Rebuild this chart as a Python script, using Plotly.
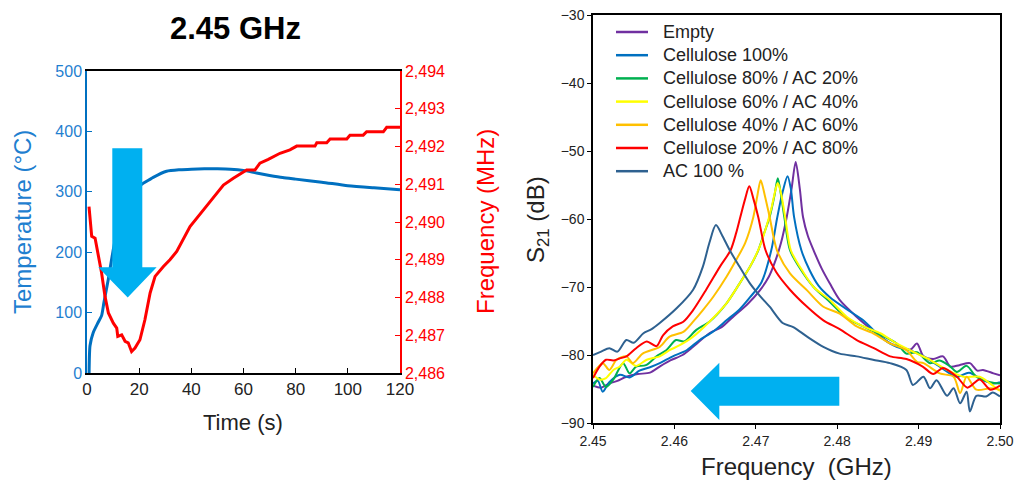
import plotly.graph_objects as go

# ---------------- Left chart data ----------------
time_temp = [0.8, 1.15, 2.4, 4.3, 5.6, 6.5, 8.2, 10.1, 12, 14, 16, 18, 20, 21.2, 25.4, 30.5,
             35.6, 40, 45, 50, 55, 60, 65, 70, 75, 80, 90, 100, 110, 120]
temperature = [0, 45, 67, 84, 95, 117, 156, 205, 245, 275, 295, 305, 310, 313, 324, 334,
               336.5, 337.5, 338, 338, 337.5, 335.5, 331, 327, 323.5, 321, 316, 310, 306.5, 303.5]

time_freq = [0.77, 1.8, 3.1, 4.3, 5.6, 6.9, 8.2, 10.1, 11.4, 11.8, 13.3, 14.6, 15.8, 17.1,
             18.4, 20.3, 22.2, 24.2, 26.1, 29.3, 31.8, 34.4, 39.5, 47.2, 52.3, 56.1, 59.3,
             61.2, 64.4, 66.3, 69.5, 74.0, 77.8, 80.4, 87.4, 88.1, 91.9, 93.2, 99.6, 100.8,
             105.9, 107.2, 113.6, 114.9, 120]
frequency_mhz = [2490.41, 2489.62, 2489.57, 2489.17, 2488.65, 2488.03, 2487.59, 2487.32,
                 2487.19, 2486.97, 2487.01, 2486.84, 2486.80, 2486.57, 2486.66, 2486.88,
                 2487.41, 2488.12, 2488.56, 2488.82, 2489.00, 2489.22, 2489.88, 2490.54,
                 2490.98, 2491.16, 2491.29, 2491.38, 2491.38, 2491.56, 2491.66, 2491.82,
                 2491.91, 2492.01, 2492.01, 2492.10, 2492.10, 2492.20, 2492.20, 2492.30,
                 2492.30, 2492.39, 2492.39, 2492.51, 2492.51]

# ---------------- Right chart data ----------------
series_names = ["Empty", "Cellulose 100%", "Cellulose 80% / AC 20%", "Cellulose 60% / AC 40%",
                "Cellulose 40% / AC 60%", "Cellulose 20% / AC 80%", "AC 100 %"]
series_colors = ["#7030A0", "#0070C0", "#00B050", "#FFFF00", "#FFC000", "#FF0000", "#2E6190"]

f_empty = [2.4500, 2.4510, 2.4520, 2.4530, 2.4541, 2.4555, 2.4570, 2.4582, 2.4595, 2.4610,
           2.4623, 2.4643, 2.4658, 2.4672, 2.4690, 2.4705, 2.4716, 2.4723, 2.4731, 2.4738,
           2.4744, 2.4749, 2.4754, 2.4758, 2.4764, 2.4771, 2.4781, 2.4791, 2.4803, 2.4824,
           2.4845, 2.4865, 2.4878, 2.4890, 2.4898, 2.4906, 2.4918, 2.4930, 2.4939, 2.4950,
           2.4963, 2.4972, 2.4979, 2.4992, 2.5000]
s21_empty = [-84.5, -84.8, -84.2, -83.8, -83.2, -82.8, -82.6, -81.7, -80.8, -80.0,
             -78.8, -76.8, -75.9, -74.4, -72.5, -70.5, -68.5, -66.5, -63.5, -59.7,
             -55.5, -51.6, -55.5, -59.7, -62.5, -64.6, -67.3, -69.5, -71.9, -74.4,
             -76.5, -78.3, -78.8, -79.2, -78.3, -80.2, -80.6, -80.2, -81.7, -81.5,
             -81.2, -82.3, -82.2, -82.7, -83.0]

f_cel100 = [2.4500, 2.4506, 2.4512, 2.4520, 2.4533, 2.4545, 2.4557, 2.4570, 2.4582, 2.4598,
            2.4615, 2.4631, 2.4647, 2.4664, 2.4680, 2.4693, 2.4707, 2.4719, 2.4726, 2.4733,
            2.4739, 2.4743, 2.4747, 2.4756, 2.4766, 2.4777, 2.4791, 2.4812, 2.4832, 2.4853,
            2.4873, 2.4889, 2.4906, 2.4926, 2.4947, 2.4962, 2.4979, 2.4992, 2.5000]
s21_cel100 = [-84.2, -83.8, -85.4, -84.0, -82.9, -83.3, -82.3, -81.8, -81.2, -80.2,
              -79.3, -77.8, -76.6, -74.9, -73.3, -71.5, -69.3, -64.6, -60.0, -56.0,
              -53.7, -55.5, -59.7, -64.6, -67.5, -69.8, -71.5, -73.3, -74.9, -77.3,
              -78.8, -79.3, -80.2, -81.7, -83.2, -82.6, -83.7, -84.2, -84.0]

f_cel80 = [2.4500, 2.4508, 2.4516, 2.4525, 2.4537, 2.4545, 2.4553, 2.4565, 2.4578, 2.4590,
           2.4602, 2.4612, 2.4627, 2.4643, 2.4664, 2.4680, 2.4693, 2.4703, 2.4709, 2.4717,
           2.4723, 2.4727, 2.4731, 2.4735, 2.4742, 2.4754, 2.4771, 2.4791, 2.4812, 2.4832,
           2.4853, 2.4873, 2.4885, 2.4898, 2.4914, 2.4926, 2.4939, 2.4947, 2.4959, 2.4971,
           2.4988, 2.5000]
s21_cel80 = [-84.7, -83.4, -84.7, -83.6, -81.2, -82.7, -81.7, -81.5, -80.2, -79.3,
             -77.8, -78.0, -76.3, -75.1, -72.4, -69.5, -67.0, -64.6, -62.5, -59.7,
             -56.5, -54.0, -56.5, -59.7, -64.6, -67.2, -70.0, -72.2, -74.6, -75.8,
             -77.0, -78.3, -79.8, -79.6, -81.2, -80.8, -81.7, -82.5, -81.6, -83.2,
             -84.0, -84.2]

f_cel60 = [2.4500, 2.4508, 2.4516, 2.4525, 2.4533, 2.4541, 2.4553, 2.4566, 2.4582, 2.4594,
           2.4606, 2.4623, 2.4643, 2.4664, 2.4680, 2.4693, 2.4705, 2.4712, 2.4719, 2.4724,
           2.4727, 2.4731, 2.4736, 2.4743, 2.4754, 2.4771, 2.4791, 2.4812, 2.4832, 2.4853,
           2.4873, 2.4898, 2.4914, 2.4935, 2.4955, 2.4975, 2.4988, 2.5000]
s21_cel60 = [-82.9, -83.6, -83.4, -82.2, -81.7, -80.7, -81.6, -80.7, -80.2, -79.3,
             -78.6, -77.3, -75.1, -72.4, -69.5, -67.0, -64.0, -61.5, -58.5, -55.8,
             -54.7, -56.2, -59.7, -64.6, -67.0, -70.0, -71.9, -74.4, -75.8, -76.8,
             -78.3, -79.8, -80.7, -82.2, -83.2, -83.2, -84.2, -85.3]

f_cel40 = [2.4500, 2.4512, 2.4520, 2.4529, 2.4541, 2.4549, 2.4561, 2.4582, 2.4594, 2.4611,
           2.4623, 2.4635, 2.4648, 2.4664, 2.4676, 2.4687, 2.4697, 2.4702, 2.4706, 2.4711,
           2.4717, 2.4726, 2.4742, 2.4763, 2.4783, 2.4803, 2.4824, 2.4844, 2.4865, 2.4885,
           2.4898, 2.4906, 2.4926, 2.4943, 2.4951, 2.4959, 2.4971, 2.4988, 2.5000]
s21_cel40 = [-82.7, -81.2, -82.2, -80.7, -80.2, -81.2, -79.8, -78.8, -77.3, -76.6,
             -75.1, -73.4, -71.4, -68.5, -66.0, -63.5, -59.7, -56.5, -54.3, -56.5,
             -59.7, -64.6, -68.0, -70.5, -72.9, -73.9, -75.8, -76.8, -78.3, -79.3,
             -81.0, -81.2, -82.7, -83.2, -85.6, -83.2, -85.1, -84.9, -85.1]

f_cel20 = [2.4500, 2.4508, 2.4516, 2.4525, 2.4533, 2.4541, 2.4553, 2.4566, 2.4578, 2.4586,
           2.4598, 2.4611, 2.4623, 2.4639, 2.4656, 2.4669, 2.4676, 2.4681, 2.4687, 2.4692,
           2.4697, 2.4703, 2.4712, 2.4725, 2.4742, 2.4762, 2.4783, 2.4803, 2.4824, 2.4845,
           2.4865, 2.4885, 2.4905, 2.4918, 2.4930, 2.4947, 2.4960, 2.4975, 2.4988, 2.5000]
s21_cel20 = [-83.4, -81.7, -80.7, -80.8, -80.5, -80.2, -79.0, -78.0, -78.7, -77.1,
             -75.8, -75.1, -73.4, -70.4, -67.0, -64.6, -62.0, -59.7, -57.0, -55.2,
             -57.0, -59.7, -64.6, -67.8, -70.4, -72.8, -74.9, -76.2, -77.8, -79.0,
             -80.2, -80.6, -81.7, -82.8, -81.9, -83.2, -84.8, -83.6, -85.1, -84.5]

f_ac100 = [2.4500, 2.4510, 2.4520, 2.4530, 2.4541, 2.4550, 2.4562, 2.4572, 2.4582, 2.4603,
           2.4623, 2.4635, 2.4643, 2.4651, 2.4659, 2.4668, 2.4680, 2.4693, 2.4705, 2.4717,
           2.4733, 2.4746, 2.4763, 2.4783, 2.4803, 2.4824, 2.4844, 2.4865, 2.4885, 2.4893,
           2.4906, 2.4914, 2.4922, 2.4935, 2.4943, 2.4951, 2.4959, 2.4963, 2.4971, 2.4983,
           2.4991, 2.5000]
s21_ac100 = [-80.0, -79.5, -79.0, -79.5, -77.8, -78.2, -76.8, -76.2, -75.3, -73.1,
             -70.4, -67.0, -63.5, -60.9, -62.5, -64.6, -67.0, -69.5, -71.3, -72.9,
             -75.3, -75.9, -77.3, -78.8, -79.8, -80.2, -80.7, -81.2, -82.2, -84.4,
             -83.2, -84.9, -83.7, -86.0, -84.9, -87.1, -85.4, -88.3, -86.0, -86.1,
             -85.5, -86.1]

series_f = [f_empty, f_cel100, f_cel80, f_cel60, f_cel40, f_cel20, f_ac100]
series_s21 = [s21_empty, s21_cel100, s21_cel80, s21_cel60, s21_cel40, s21_cel20, s21_ac100]

# Arrow outlines (decorations, in data units)
down_arrow_t = [9.7, 21.2, 21.2, 26.7, 15.6, 4.3, 9.7]
down_arrow_temp = [372, 372, 175, 175, 125, 175, 175]
left_arrow_f = [2.48026, 2.48026, 2.46552, 2.46552, 2.4620, 2.46552, 2.46552]
left_arrow_s21 = [-83.19, -87.46, -87.46, -89.56, -85.29, -81.13, -83.19]

W, H = 1021, 481
FONT = "Arial, Liberation Sans, sans-serif"
TEMP_BLUE = "#0070C0"
TEMP_TEXT = "#1F80D0"
ARROW = "#00B0F0"
TEXT = "#222222"


def path_from(xs, ys):
    return "M " + " L ".join(f"{a},{b}" for a, b in zip(xs, ys)) + " Z"


def px(xp):
    return xp / W


def py(yp):
    return 1 - yp / H


fig = go.Figure()

fig.add_trace(go.Scatter(x=time_temp, y=temperature, mode="lines", xaxis="x", yaxis="y",
                         line=dict(color=TEMP_BLUE, width=3, shape="spline", smoothing=0.6),
                         showlegend=False))
fig.add_trace(go.Scatter(x=time_freq, y=frequency_mhz, mode="lines", xaxis="x", yaxis="y3",
                         line=dict(color="#FF0000", width=3), showlegend=False))

for name, color, fx, sy in zip(series_names, series_colors, series_f, series_s21):
    fig.add_trace(go.Scatter(x=fx, y=sy, mode="lines", name=name, xaxis="x2", yaxis="y2",
                             showlegend=False,
                             line=dict(color=color, width=2, shape="spline", smoothing=0.8)))

# Legend drawn as line samples + text (positions in pixels of the page)
legend_shapes = []
legend_annots = []
for i, (name, color) in enumerate(zip(series_names, series_colors)):
    yc = 32 + i * 23.2
    legend_shapes.append(dict(type="line", xref="paper", yref="paper",
                              x0=px(616), x1=px(648), y0=py(yc), y1=py(yc),
                              line=dict(color=color, width=2.5)))
    legend_annots.append(dict(text=name, x=px(661), y=py(yc), xref="paper", yref="paper",
                              showarrow=False, xanchor="left", yanchor="middle",
                              font=dict(size=18, color=TEXT)))

axis_common = dict(automargin=False, showgrid=False, zeroline=False, showline=True, linewidth=1.5)

fig.update_layout(
    width=W, height=H,
    margin=dict(l=0, r=0, t=0, b=0, pad=0),
    paper_bgcolor="white", plot_bgcolor="white",
    font=dict(family=FONT, size=16, color="black"),
    showlegend=False,
    xaxis=dict(domain=[px(87), px(400)], range=[0, 120], dtick=20, tick0=0, anchor="y",
               linecolor="black", mirror=True,
               ticks="inside", ticklen=5, tickcolor="black",
               tickfont=dict(size=17, color=TEXT), **axis_common),
    yaxis=dict(domain=[py(373), py(71)], range=[0, 500], dtick=100, anchor="x",
               linecolor=TEMP_BLUE, ticks="inside", ticklen=5, tickcolor=TEMP_BLUE,
               tickfont=dict(size=16, color=TEMP_TEXT), **axis_common),
    yaxis3=dict(domain=[py(373), py(71)], range=[2486, 2494], dtick=1, anchor="x",
                overlaying="y", side="right", tickformat=",d",
                linecolor="#FF0000", ticks="inside", ticklen=5, tickcolor="#FF0000",
                tickfont=dict(size=16, color="#FF0000"), **axis_common),
    xaxis2=dict(domain=[px(593), px(1000)], range=[2.45, 2.50], dtick=0.01, tick0=2.45,
                tickformat=".2f", anchor="y2", linecolor="black", mirror=True,
                ticks="outside", ticklen=4, tickcolor="black",
                tickfont=dict(size=14, color=TEXT), **axis_common),
    yaxis2=dict(domain=[py(423), py(15)], range=[-90, -30], dtick=10, anchor="x2",
                linecolor="black", mirror=True,
                ticks="outside", ticklen=4, tickcolor="black",
                tickfont=dict(size=14, color=TEXT), **axis_common),
    shapes=[
        dict(type="path", xref="x", yref="y", path=path_from(down_arrow_t, down_arrow_temp),
             fillcolor=ARROW, line=dict(width=0), layer="above"),
        dict(type="path", xref="x2", yref="y2", path=path_from(left_arrow_f, left_arrow_s21),
             fillcolor=ARROW, line=dict(width=0), layer="above"),
    ] + legend_shapes,
    annotations=[
        dict(text="<b>2.45 GHz</b>", x=px(235.5), y=py(28), xref="paper", yref="paper",
             showarrow=False, font=dict(size=31, color="black"), xanchor="center", yanchor="middle"),
        dict(text="Temperature (°C)", x=px(22), y=py(222), xref="paper", yref="paper",
             showarrow=False, textangle=-90, font=dict(size=24, color=TEMP_TEXT),
             xanchor="center", yanchor="middle"),
        dict(text="Frequency (MHz)", x=px(485), y=py(222), xref="paper", yref="paper",
             showarrow=False, textangle=-90, font=dict(size=24, color="#FF0000"),
             xanchor="center", yanchor="middle"),
        dict(text="Time (s)", x=px(243), y=py(422), xref="paper", yref="paper",
             showarrow=False, font=dict(size=22, color=TEXT), xanchor="center", yanchor="middle"),
        dict(text="S<sub>21</sub> (dB)", x=px(537), y=py(220), xref="paper", yref="paper",
             showarrow=False, textangle=-90, font=dict(size=24, color=TEXT),
             xanchor="center", yanchor="middle"),
        dict(text="Frequency  (GHz)", x=px(796), y=py(466), xref="paper", yref="paper",
             showarrow=False, font=dict(size=24, color=TEXT), xanchor="center", yanchor="middle"),
    ] + legend_annots,
)

fig.write_html("out.html")
